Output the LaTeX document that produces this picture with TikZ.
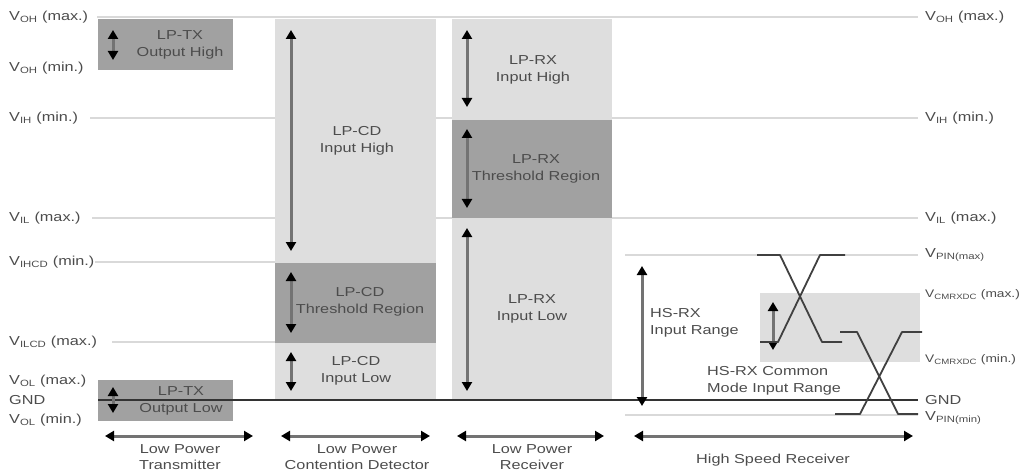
\documentclass[tikz,border=0pt]{standalone}
\usepackage{fontspec}
\setmainfont{Liberation Sans}[FakeStretch=1.25]
\usetikzlibrary{arrows.meta}

\definecolor{regdark}{gray}{0.63}
\definecolor{reglight}{gray}{0.87}
\definecolor{refline}{gray}{0.85}
\definecolor{txtgray}{gray}{0.3}

\begin{document}
\begin{tikzpicture}[x=1pt,y=-1pt,
  every node/.style={font=\fontsize{13}{16.5}\selectfont,text=txtgray,inner sep=0pt},
  lvl/.style={refline,line width=1.5pt},
  tipend/.tip={Triangle[color=black,length=9pt,width=10pt]},
  dimarrow/.style={draw=black!55,line width=3pt,tipend-tipend,shorten <=0pt,shorten >=0pt},
  wave/.style={black!75,line width=1.8pt,line join=round}]
  \useasboundingbox (0,0) rectangle (1030,473);

  % reference levels
  \draw[lvl] (97,17) -- (918,17);
  \draw[lvl] (90,118) -- (918,118);
  \draw[lvl] (92,218) -- (918,218);
  \draw[lvl] (95,262) -- (275,262);
  \draw[lvl] (112,342) -- (275,342);
  \draw[lvl] (625,255) -- (918,255);
  \draw[lvl] (625,415) -- (918,415);

  % regions
  \fill[regdark] (98,19) rectangle (233,70);
  \fill[regdark] (98,380) rectangle (233,421);
  \fill[reglight] (275,19) rectangle (436,400);
  \fill[regdark] (275,263) rectangle (436,343);
  \fill[reglight] (452,19) rectangle (612,400);
  \fill[regdark] (452,120) rectangle (612,218);
  \fill[reglight] (760,293) rectangle (920,362);

  \draw[black!80,line width=1.8pt] (98,400) -- (918,400);

  % level labels
  \foreach \y/\t [count=\i] in {17/{V\textsubscript{OH} (max.)},68/{V\textsubscript{OH} (min.)},
      118/{V\textsubscript{IH} (min.)},218/{V\textsubscript{IL} (max.)},262/{V\textsubscript{IHCD} (min.)},
      342/{V\textsubscript{ILCD} (max.)},381/{V\textsubscript{OL} (max.)},400/GND,420/{V\textsubscript{OL} (min.)}}
    \node[anchor=west] (lvlL\i) at (9,\y) {\t};
  \foreach \y/\t [count=\i] in {17/{V\textsubscript{OH} (max.)},118/{V\textsubscript{IH} (min.)},
      218/{V\textsubscript{IL} (max.)},255/{V\textsubscript{PIN(max)}},400/GND,418/{V\textsubscript{PIN(min)}}}
    \node[anchor=west] (lvlR\i) at (925,\y) {\t};
  \node[anchor=west,font=\fontsize{11}{14}\selectfont] (cmmax) at (925,295) {V\textsubscript{CMRXDC} (max.)};
  \node[anchor=west,font=\fontsize{11}{14}\selectfont] (cmmin) at (925,360) {V\textsubscript{CMRXDC} (min.)};

  % range arrows
  \draw[dimarrow] (113,30) -- (113,60);
  \draw[dimarrow] (113,387) -- (113,413);
  \draw[dimarrow] (291,30) -- (291,251);
  \draw[dimarrow] (291,272) -- (291,333);
  \draw[dimarrow] (291,352) -- (291,391);
  \draw[dimarrow] (467,30) -- (467,107);
  \draw[dimarrow] (467,129) -- (467,208);
  \draw[dimarrow] (467,228) -- (467,391);
  \draw[dimarrow] (642,266) -- (642,406);
  \draw[dimarrow] (773,302) -- (773,350);
  \foreach \a/\b in {105/253,281/430,457/604,634/913}
    \draw[dimarrow] (\a,436) -- (\b,436);

  % region texts
  \node[align=center] (txhigh) at (180,45) {LP-TX\\Output High};
  \node[align=center] (txlow) at (181,401) {LP-TX\\Output Low};
  \node[align=center] (cdhigh) at (357,141) {LP-CD\\Input High};
  \node[align=center] (cdthr) at (360,302) {LP-CD\\Threshold Region};
  \node[align=center] (cdlow) at (356,371) {LP-CD\\Input Low};
  \node[align=center] (rxhigh) at (533,70) {LP-RX\\Input High};
  \node[align=center] (rxthr) at (536,169) {LP-RX\\Threshold Region};
  \node[align=center] (rxlow) at (532,309) {LP-RX\\Input Low};
  \node[align=left,anchor=west] (hsrange) at (650,323) {HS-RX\\Input Range};
  \node[align=left,anchor=west] (hscm) at (707,381) {HS-RX Common\\Mode Input Range};

  % block names
  \node[align=center] (lptx) at (180,457) {Low Power\\Transmitter};
  \node[align=center] (lpcd) at (357,457) {Low Power\\Contention Detector};
  \node[align=center] (lprx) at (532,457) {Low Power\\Receiver};
  \node (hsrx) at (773,460) {High Speed Receiver};

  % differential signals
  \draw[wave] (757,255) -- (780,255) -- (822,342) -- (842,342);
  \draw[wave] (845,255) -- (820,255) -- (778,342) -- (760,342);
  \draw[wave] (840,332) -- (857,332) -- (898,414) -- (918,414);
  \draw[wave] (922,332) -- (902,332) -- (860,414) -- (835,414);
\end{tikzpicture}
\end{document}
